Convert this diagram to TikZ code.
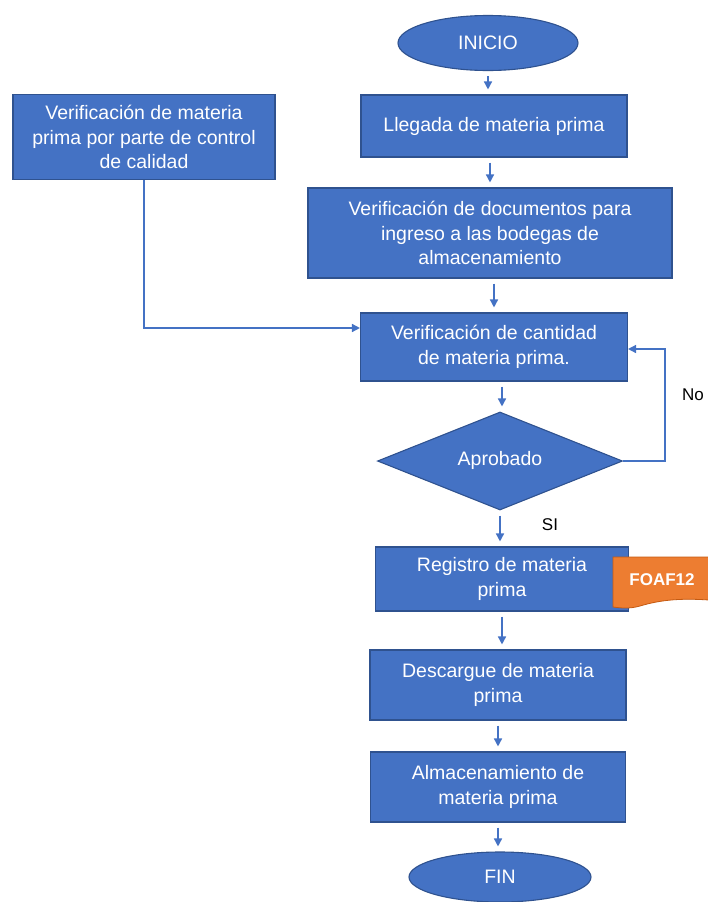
\documentclass[tikz,border=0pt]{standalone}
\usepackage{fontspec}
\setmainfont{Liberation Sans}
\usetikzlibrary{shapes.geometric,arrows.meta,calc}
\definecolor{boxblue}{HTML}{4472C4}
\definecolor{boxedge}{HTML}{2F528F}
\definecolor{tagorange}{HTML}{ED7D31}
\definecolor{tagedge}{HTML}{C55A11}
\tikzset{
  base/.style={fill=boxblue, draw=boxedge, line width=1.1pt, text=white,
    font=\fontsize{19.5}{24.5}\selectfont, align=center, inner sep=0pt},
  procbox/.style={base, rectangle},
  terminal/.style={base, ellipse},
  decision/.style={base, diamond, aspect=2.5},
  flow/.style={draw=boxblue, line width=1.5pt, shorten >=5pt, shorten <=5pt,
    -{Triangle[length=8pt,width=8pt]}},
  link/.style={draw=boxblue, line width=1.5pt, -{Triangle[length=8pt,width=8pt]}},
  tagtext/.style={text=white, font=\fontsize{17}{20}\selectfont\bfseries, inner sep=0pt},
  plain/.style={text=black, font=\fontsize{17}{20}\selectfont, inner sep=0pt}
}
\begin{document}
\begin{tikzpicture}[x=1pt,y=-1pt]
\useasboundingbox (0,0) rectangle (707,902);

% process steps
\node[terminal, minimum width=180pt, minimum height=55pt] (inicio) at (488,43) {INICIO};
\node[procbox, minimum width=266pt, minimum height=62pt] (llegada) at (494,126) {Llegada de materia prima};
\node[procbox, minimum width=364pt, minimum height=90pt] (docs) at (490,233)
  {Verificación de documentos para\\ingreso a las bodegas de\\almacenamiento};
\node[procbox, minimum width=262pt, minimum height=85pt] (calidad) at (144,137)
  {Verificación de materia\\prima por parte de control\\de calidad};
\node[procbox, minimum width=267pt, minimum height=68pt] (cantidad) at (494,347)
  {Verificación de cantidad\\de materia prima.};
\node[decision, minimum width=245pt, minimum height=98pt] (aprobado) at (500,461)
  {\raisebox{6pt}{Aprobado}};
\node[procbox, minimum width=253pt, minimum height=64pt] (registro) at (502,579)
  {Registro de materia\\prima};
\node[procbox, minimum width=256pt, minimum height=70pt] (descargue) at (498,685)
  {Descargue de materia\\prima};
\node[procbox, minimum width=255pt, minimum height=70pt] (almacen) at (498,787)
  {Almacenamiento de\\materia prima};
\node[terminal, minimum width=182pt, minimum height=50pt] (fin) at (500,877) {FIN};

% document tag beside the registration step
\fill[tagorange] (613,557) -- (709,557) -- (709,600)
  .. controls (680,598) and (660,600) .. (640,606)
  .. controls (630,609) and (620,608) .. (613,607) -- cycle;
\draw[tagedge, line width=0.8pt] (709,557) -- (613,557) -- (613,607)
  .. controls (620,608) and (630,609) .. (640,606)
  .. controls (660,600) and (680,598) .. (709,600);
\node[tagtext] (foaf) at (662,580) {FOAF12};

% main flow
\draw[flow] (inicio.south) -- (inicio.south |- llegada.north);
\draw[flow] (llegada.south -| docs.north) -- (docs.north);
\draw[flow] ([xshift=4pt]docs.south) -- ([xshift=4pt]docs.south |- cantidad.north);
\draw[flow] ([xshift=8pt]cantidad.south) -- ([xshift=8pt]cantidad.south |- aprobado.north);
\draw[flow] (aprobado.south) -- (aprobado.south |- registro.north);
\draw[flow] (registro.south) -- (registro.south |- descargue.north);
\draw[flow] (descargue.south) -- (descargue.south |- almacen.north);
\draw[flow] (almacen.south) -- (almacen.south |- fin.north);

% quality control input
\draw[link] (calidad.south) |- ([yshift=19pt]cantidad.west);

% rejection loop
\coordinate (loop) at ($(aprobado.east)+(42,0)$);
\draw[link] (aprobado.east) -- (loop) |- ([yshift=-2pt]cantidad.east);

% branch labels
\node[plain] (no) at (693,395) {No};
\node[plain] (si) at (550,525) {SI};
\end{tikzpicture}
\end{document}
